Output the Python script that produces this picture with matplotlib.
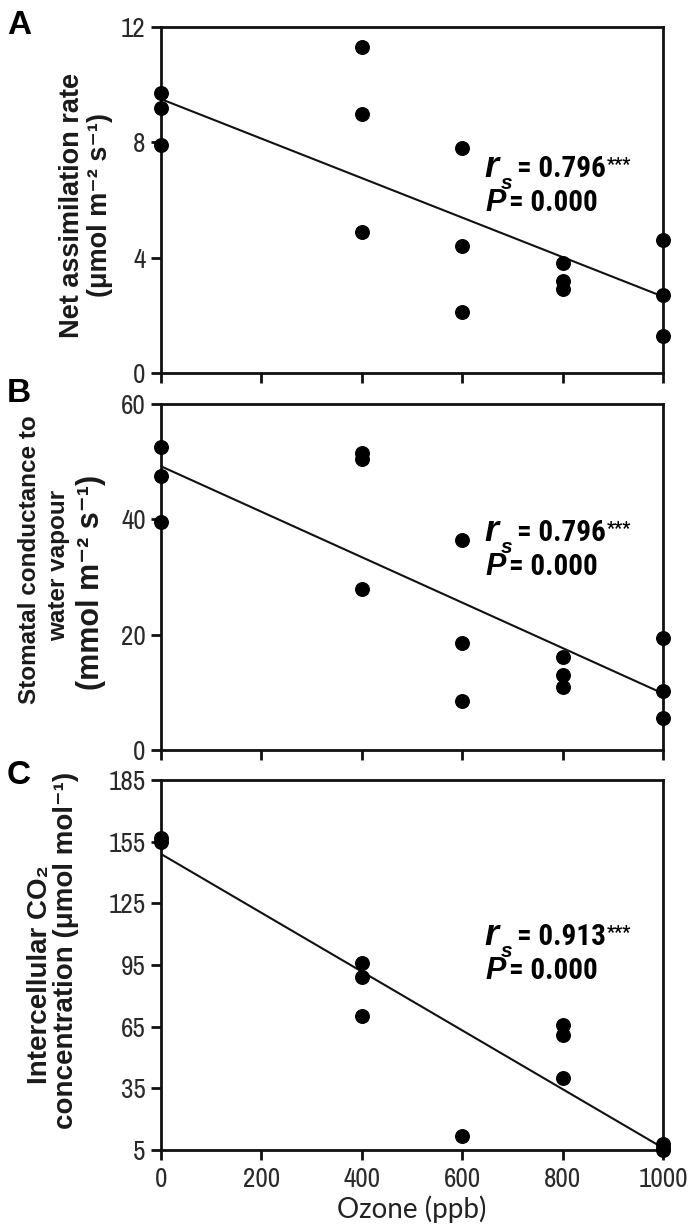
import matplotlib
matplotlib.use('Agg')
import matplotlib.pyplot as plt
from matplotlib import font_manager

# ozone doses (ppb)
ozone_ab = [0, 0, 0, 400, 400, 400, 600, 600, 600, 800, 800, 800, 1000, 1000, 1000]
ozone_c = [0, 0, 400, 400, 400, 600, 800, 800, 800, 1000, 1000, 1000]

# A: net assimilation rate (umol m-2 s-1)
net_assim = [9.7, 9.2, 7.9, 11.3, 9.0, 4.9, 7.8, 4.4, 2.1, 3.8, 3.2, 2.9, 4.6, 2.7, 1.3]
# B: stomatal conductance to water vapour (mmol m-2 s-1)
stom_cond = [52.5, 47.5, 39.5, 51.5, 50.5, 28.0, 36.5, 18.5, 8.5, 16.2, 13.0, 11.0, 19.5, 10.2, 5.5]
# C: intercellular CO2 (umol mol-1)
ci_conc = [157, 155, 96, 89, 70, 12, 66, 61, 40, 8, 6, 5]

# trend lines (value at 0 and at 1000 ppb)
fit_x = [0, 1000]
fit_a = [9.5, 2.65]
fit_b = [49.2, 9.8]
fit_c = [149, 6]

xticks = [0, 200, 400, 600, 800, 1000]
yticks = [[0, 4, 8, 12], [0, 20, 40, 60], [5, 35, 65, 95, 125, 155, 185]]
ylims = [(0, 12), (0, 60), (5, 185)]
r_vals = ['0.796', '0.796', '0.913']
p_vals = ['0.000', '0.000', '0.000']
letters = ['A', 'B', 'C']

# y label lines: (text, x px, y px, size)
label_lines = [
    [('Net assimilation rate', 72, 205, 19.5),
     ('(\u03bcmol m\u207b\u00b2 s\u207b\u00b9)', 100, 205, 19.5)],
    [('Stomatal conductance to', 30, 560, 17.5),
     ('water vapour', 59, 565, 17.5),
     ('(mmol m\u207b\u00b2 s\u207b\u00b9)', 91, 582, 22)],
    [('Intercellular CO\u2082', 40, 975, 20),
     ('concentration (\u03bcmol mol\u207b\u00b9)', 66, 950, 20)],
]


def pick(cands, weight):
    have = {}
    for f in font_manager.fontManager.ttflist:
        w = f.weight if isinstance(f.weight, int) else 400
        have.setdefault(f.name, set()).add(w)
    for c in cands:
        if c in have and any(abs(w - weight) <= 100 for w in have[c]):
            return c
    return 'DejaVu Sans'


narrow = pick(['Liberation Sans Narrow', 'Archivo Narrow', 'Roboto Condensed', 'IBM Plex Sans Condensed'], 400)
narrow_b = pick(['Liberation Sans Narrow', 'Roboto Condensed', 'IBM Plex Sans Condensed', 'Archivo Narrow'], 700)
arial = ['Liberation Sans', 'DejaVu Sans']
lato = [pick(['Lato', 'Open Sans'], 400), 'DejaVu Sans']

W, H = 700, 1228
fig = plt.figure(figsize=(7, 12.28), dpi=100)
renderer = fig.canvas.get_renderer()


def fx(x):
    return x / W


def fy(y):
    return 1 - y / H


# axes boxes in pixels: left, top, right, bottom
boxes = [(161, 27, 663, 373), (161, 404, 663, 750), (161, 780, 663, 1150)]
datasets = [(ozone_ab, net_assim, fit_a), (ozone_ab, stom_cond, fit_b), (ozone_c, ci_conc, fit_c)]
# baselines (px) of the r_s row and the P row
stat_rows = [(177, 211), (541, 575), (945, 979)]
letter_top = [10, 378, 760]

for i in range(3):
    l, t, r, b = boxes[i]
    ax = fig.add_axes([fx(l), fy(b), (r - l) / W, (b - t) / H])
    xs, ys, fit = datasets[i]
    ax.plot(fit_x, fit, color='#111111', lw=1.5, zorder=2)
    ax.scatter(xs, ys, s=95, color='black', zorder=3, clip_on=False)
    ax.set_xlim(0, 1000)
    ax.set_ylim(*ylims[i])
    ax.set_yticks(yticks[i])
    ax.set_xticks(xticks)
    for sp in ax.spines.values():
        sp.set_linewidth(2)
        sp.set_color('#111111')
    ax.tick_params(direction='out', length=7, width=2, color='#111111',
                   labelsize=19.5, labelcolor='#2a2a2a', pad=4)
    for lab in ax.get_yticklabels() + ax.get_xticklabels():
        lab.set_family([narrow, 'DejaVu Sans'])
    if i < 2:
        ax.set_xticklabels([])
    else:
        ax.tick_params(axis='x', pad=5)

    for txt, x, y, fs in label_lines[i]:
        fig.text(fx(x), fy(y), txt, rotation=90, ha='center', va='center',
                 fontsize=fs, fontweight='bold', family=arial, color='#1a1a1a')

    y1, y2 = stat_rows[i]
    fig.text(fx(484), fy(y1), 'r', fontsize=26, fontweight='bold', style='italic',
             family=arial, va='baseline')
    fig.text(fx(501), fy(y1 + 12), 's', fontsize=15, fontweight='bold', style='italic',
             family=arial, va='baseline')
    rt = fig.text(fx(517), fy(y1), '= ' + r_vals[i], fontsize=21, fontweight='bold',
                  family=[narrow_b, 'DejaVu Sans'], va='baseline')
    x_end = rt.get_window_extent(renderer=renderer).x1
    fig.text(x_end / W + 0.001, fy(y1 - 7), '***', fontsize=13, fontweight='bold',
             family=[narrow_b, 'DejaVu Sans'], va='baseline')
    fig.text(fx(485), fy(y2), 'P', fontsize=22, fontweight='bold', style='italic',
             family=arial, va='baseline')
    fig.text(fx(509), fy(y2), '= ' + p_vals[i], fontsize=21, fontweight='bold',
             family=[narrow_b, 'DejaVu Sans'], va='baseline')

    fig.text(fx(7), fy(letter_top[i]), letters[i], fontsize=24, fontweight='bold',
             family=arial, va='top')

fig.text(fx(412), fy(1209), 'Ozone (ppb)', fontsize=20, family=lato, color='#222222',
         ha='center', va='center')

fig.savefig('out.png', dpi=100)
